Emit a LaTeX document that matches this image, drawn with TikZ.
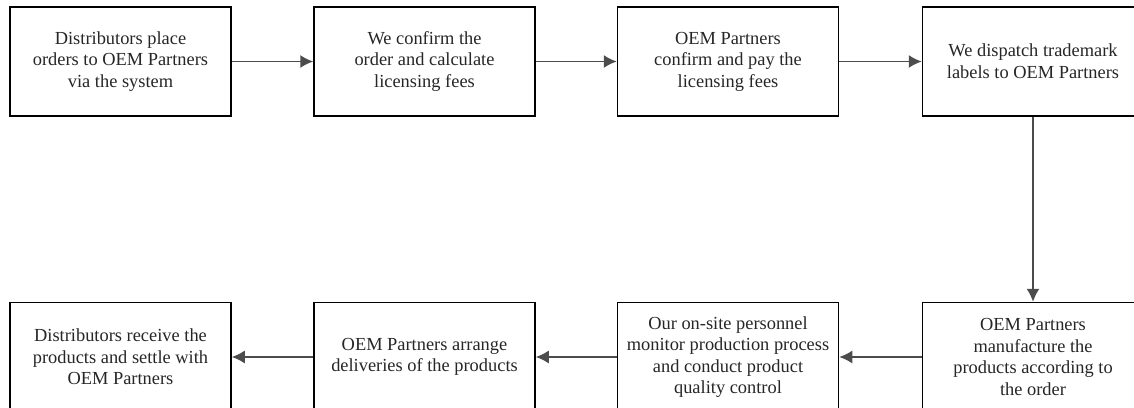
\documentclass[tikz,border=0pt]{standalone}
\usepackage{fontspec}
\setmainfont{Liberation Serif}
\usetikzlibrary{arrows.meta}

\tikzstyle{stepbox}=[shape=rectangle,draw,line width=0.75pt,minimum width=110.5pt,minimum height=54.5pt,align=center,font=\fontsize{9.2pt}{10.8pt}\selectfont,text=black!85]
\tikzstyle{arrowdecorate}=[-{Latex[length=6.5pt,width=6.5pt]},line width=0.75pt,draw=black!70,fill=black!85]

\begin{document}
\begin{tikzpicture}[x=0.5pt,y=-0.5pt]
      \useasboundingbox (0,0) rectangle (1134,407);
      %% steps
      \foreach \nodename/\x/\y/\steptext in {
        a/120.5/61.5/{Distributors place\\orders to OEM Partners\\via the system},
        b/424.5/61.5/{We confirm the\\order and calculate\\licensing fees},
        c/728/61.5/{OEM Partners\\confirm and pay the\\licensing fees},
        d/1033/61.5/{We dispatch trademark\\labels to OEM Partners},
        e/1033/357/{OEM Partners\\manufacture the\\products according to\\the order},
        f/728/357/{Our on-site personnel\\monitor production process\\and conduct product\\quality control},
        g/424.5/357/{OEM Partners arrange\\deliveries of the products},
        h/120.5/357/{Distributors receive the\\products and settle with\\OEM Partners}}
      {
        \node (\nodename) at (\x,\y) [stepbox] {\steptext};
      }
      %% arrows
      \foreach \startnode/\endnode in {a/b, b/c, c/d, d/e, e/f, f/g, g/h}
      {
        \draw[arrowdecorate] (\startnode) -- (\endnode);
      }
\end{tikzpicture}
\end{document}
